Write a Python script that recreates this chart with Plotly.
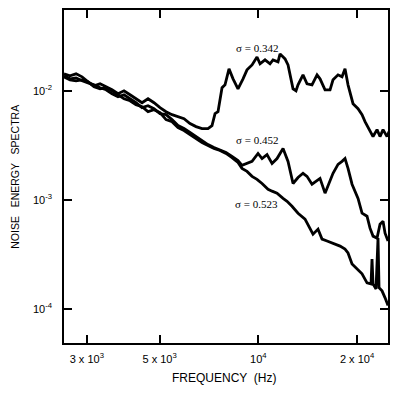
import plotly.graph_objects as go
import math

# ---- data ----
common_freq = [2556, 2666, 2782, 2901, 3026, 3156, 3292, 3434, 3581, 3735, 3895, 4063,
               4237, 4420, 4610, 4808, 5015, 5231, 5456, 5690, 5935, 6190, 6457, 6734, 7023]

freq_342 = common_freq + [7224, 7379, 7535, 7750, 7915, 8140, 8374, 8670, 8982, 9236, 9568,
                          9908, 10120, 10481, 10855, 11087, 11482, 11647, 12063, 12318, 12758,
                          13029, 13213, 13685, 14074, 14576, 15101, 15421, 15973, 16543, 16893,
                          17498, 17997, 18378, 18770, 19440, 20137, 20710, 21149, 21903, 22371,
                          23008, 23496, 24000, 24685, 25035]
spec_342 = [0.01430, 0.01371, 0.01430, 0.01342, 0.01208, 0.01111, 0.01158, 0.01088, 0.01021,
            0.00939, 0.01000, 0.00919, 0.00845, 0.00777, 0.00845, 0.00777, 0.00700, 0.00643,
            0.00604, 0.00579, 0.00555, 0.00500, 0.00469, 0.00450, 0.00450,
            0.00479, 0.00617, 0.00643, 0.01065, 0.01134, 0.01589, 0.01287, 0.01043, 0.01287,
            0.01555, 0.01728, 0.02040, 0.01765, 0.01920, 0.01765, 0.01920, 0.01840, 0.02180,
            0.01960, 0.01728, 0.01043, 0.01000, 0.01134, 0.01400, 0.01158, 0.01134, 0.01400,
            0.01287, 0.01021, 0.01021, 0.01260, 0.01400, 0.01342, 0.01589, 0.01134, 0.00761,
            0.00685, 0.00604, 0.00521, 0.00422, 0.00380, 0.00440, 0.00380, 0.00440, 0.00380,
            0.00422]

freq_452 = common_freq + [7326, 7641, 7970, 8313, 8670, 8918,
                          9236, 9568, 9979, 10263, 10629, 11011, 11403, 11895, 12318, 12758,
                          13213, 13685, 14074, 14576, 15421, 15973, 16893, 17498, 17997, 18378,
                          18770, 19306, 20137, 20710, 21449, 21903, 22371, 23008, 23496, 24000,
                          24342, 24856]
spec_452 = [0.01371, 0.01287, 0.01314, 0.01234, 0.01183, 0.01134, 0.01065, 0.01021, 0.00939,
            0.00882, 0.00919, 0.00845, 0.00777, 0.00700, 0.00729, 0.00685, 0.00617, 0.00604,
            0.00544, 0.00479, 0.00450, 0.00414, 0.00380, 0.00349, 0.00321, 0.00302, 0.00289,
            0.00272, 0.00250, 0.00229, 0.00207,
            0.00215, 0.00225, 0.00266, 0.00239, 0.00260, 0.00215, 0.00239, 0.00295, 0.00225,
            0.00141, 0.00160, 0.00175, 0.00164, 0.00139, 0.00157, 0.00115, 0.00175, 0.00211,
            0.00225, 0.00239, 0.00194, 0.00139, 0.00103, 0.000753, 0.000707, 0.000549,
            0.000464, 0.000445, 0.000597, 0.000636, 0.000494, 0.000418]

freq_523 = common_freq + [7326, 7641, 7970, 8313, 8670, 8918,
                          9236, 9568, 9908, 10263, 10705, 11011, 11403, 11895, 12234, 12667,
                          13213, 13879, 14372, 14679, 15205, 15638, 16200, 16893, 17746, 18378,
                          18770, 19306, 19994, 20710, 21449, 22059, 22213, 22371, 22845, 23168,
                          23335, 23830, 24342, 24856]
spec_523 = [0.01342, 0.01260, 0.01234, 0.01260, 0.01208, 0.01088, 0.01043, 0.01065, 0.01000,
            0.00919, 0.00845, 0.00810, 0.00745, 0.00714, 0.00643, 0.00671, 0.00630, 0.00544,
            0.00521, 0.00459, 0.00431, 0.00396, 0.00364, 0.00335, 0.00315, 0.00295, 0.00283,
            0.00266, 0.00244, 0.00220, 0.00194,
            0.00182, 0.00164, 0.00154, 0.00141, 0.00125, 0.00120, 0.00115, 0.00103, 0.000969,
            0.000872, 0.000753, 0.000664, 0.000538, 0.000484, 0.000538, 0.000436, 0.000418,
            0.000400, 0.000376, 0.000353, 0.000325, 0.000258, 0.000232, 0.000209, 0.000173,
            0.000169, 0.000286, 0.000169, 0.000152, 0.000445, 0.000156, 0.000146, 0.000126,
            0.000107]

sigma_labels = ["σ = 0.342", "σ = 0.452", "σ = 0.523"]

x_tickvals = [3000, 5000, 10000, 20000]
x_ticktext = ["3 x 10<sup>3</sup>", "5 x 10<sup>3</sup>", "10<sup>4</sup>", "2 x 10<sup>4</sup>"]
y_tickvals = [1e-4, 1e-3, 1e-2]
y_ticktext = ["10<sup>-4</sup>", "10<sup>-3</sup>", "10<sup>-2</sup>"]

# ---- figure ----
fig = go.Figure()
for fx, sy in [(freq_342, spec_342), (freq_452, spec_452), (freq_523, spec_523)]:
    fig.add_trace(go.Scatter(x=fx, y=sy, mode="lines",
                             line=dict(color="black", width=2.8),
                             showlegend=False, hoverinfo="skip"))

axis_common = dict(showline=True, linecolor="black", linewidth=1.5, mirror="ticks",
                   ticks="inside", ticklen=8, tickwidth=1.5, tickcolor="black",
                   showgrid=False, zeroline=False,
                   tickfont=dict(family="Liberation Sans, Arial, sans-serif", size=11, color="black"))

fig.update_xaxes(type="log", range=[math.log10(2556), math.log10(24850)],
                 tickvals=x_tickvals, ticktext=x_ticktext, ticklabelstandoff=5, **axis_common)
fig.update_yaxes(type="log", range=[-4.314, -1.259],
                 tickvals=y_tickvals, ticktext=y_ticktext, ticklabelstandoff=8, **axis_common)

ann_font = dict(family="Liberation Serif, Times New Roman, serif", size=11, color="black")
fig.add_annotation(x=3.995, y=math.log10(0.0247), text=sigma_labels[0], showarrow=False,
                   font=ann_font, xanchor="center", yanchor="middle")
fig.add_annotation(x=3.995, y=math.log10(0.00357), text=sigma_labels[1], showarrow=False,
                   font=ann_font, xanchor="center", yanchor="middle")
fig.add_annotation(x=3.995, y=math.log10(0.00091), text=sigma_labels[2], showarrow=False,
                   font=ann_font, xanchor="center", yanchor="middle")

fig.add_annotation(xref="paper", yref="paper", x=0.494, y=-0.1045, text="FREQUENCY  (Hz)",
                   showarrow=False, xanchor="center", yanchor="middle",
                   font=dict(family="Liberation Sans, Arial, sans-serif", size=12, color="black"))
fig.add_annotation(xref="paper", yref="paper", x=-0.152, y=0.4985,
                   text="NOISE   ENERGY   SPECTRA",
                   showarrow=False, textangle=-90, xanchor="center", yanchor="middle",
                   font=dict(family="Liberation Sans, Arial, sans-serif", size=10.5, color="black"))

fig.update_layout(width=404, height=396, margin=dict(l=64, r=16, t=8, b=53),
                  plot_bgcolor="white", paper_bgcolor="white")

fig.write_html("out.html", config={"displayModeBar": False},
               post_script="document.body.style.margin='0px';")
